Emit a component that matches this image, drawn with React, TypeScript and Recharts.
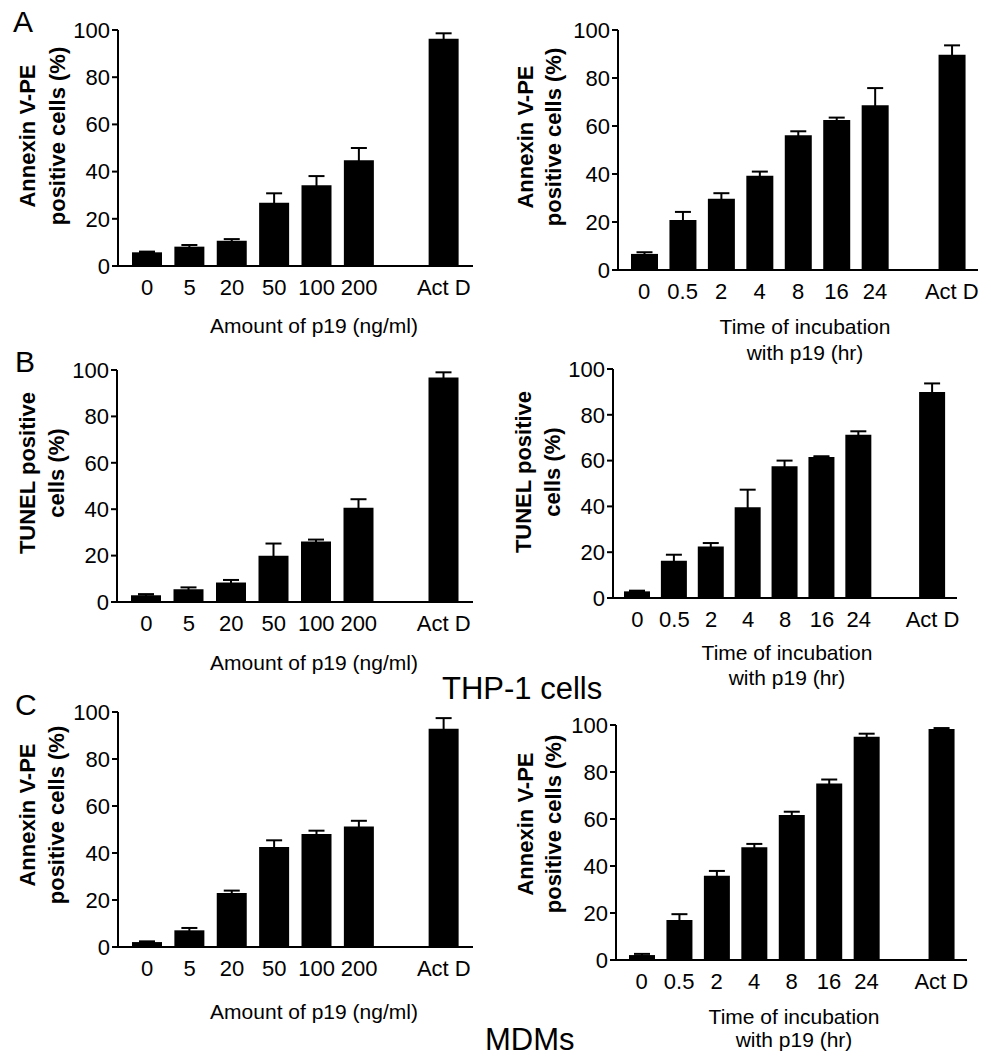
import React from "react";
import { BarChart, Bar, XAxis, YAxis, ErrorBar } from "recharts";

const FONT = '"Liberation Sans", Arial, Helvetica, sans-serif';

// categorias
const doseCats = ["0", "5", "20", "50", "100", "200", "", "Act D"];
const timeCats = ["0", "0.5", "2", "4", "8", "16", "24", "", "Act D"];
const yTicks = [0, 20, 40, 60, 80, 100];

// A: Annexin V-PE, THP-1
const aDoseMean = [5.8, 8.2, 10.7, 26.8, 34.2, 44.8, null, 96.3];
const aDoseErr = [0.3, 0.7, 0.7, 4.0, 3.9, 5.2, null, 2.3];
const aTimeMean = [6.7, 20.8, 29.7, 39.3, 56.1, 62.5, 68.6, null, 89.7];
const aTimeErr = [0.7, 3.4, 2.3, 1.7, 1.7, 1.0, 7.2, null, 3.9];

// B: TUNEL, THP-1
const bDoseMean = [2.9, 5.5, 8.4, 19.9, 26.1, 40.6, null, 96.8];
const bDoseErr = [0.5, 0.8, 1.1, 5.3, 0.8, 3.7, null, 2.2];
const bTimeMean = [2.9, 16.3, 22.5, 39.6, 57.5, 61.6, 71.3, null, 90.0];
const bTimeErr = [0.3, 2.6, 1.5, 7.7, 2.5, 0.3, 1.5, null, 3.7];

// C: Annexin V-PE, MDMs
const cDoseMean = [2.1, 7.1, 23.0, 42.6, 48.1, 51.3, null, 92.9];
const cDoseErr = [0.3, 1.0, 1.0, 2.8, 1.4, 2.4, null, 4.5];
const cTimeMean = [2.1, 17.0, 35.9, 48.0, 61.7, 75.1, 95.0, null, 98.3];
const cTimeErr = [0.5, 2.5, 2.0, 1.4, 1.4, 1.7, 1.3, null, 0.4];

const annexinTitle = ["Annexin V-PE", "positive cells (%)"];
const tunelTitle = ["TUNEL positive", "cells (%)"];
const doseTitle = ["Amount of p19 (ng/ml)"];
const timeTitle = ["Time of incubation", "with p19 (hr)"];

const build = (cats: string[], mean: (number | null)[], err: (number | null)[]) =>
  cats.map((c, i) => ({ name: c, value: mean[i], err: err[i] }));

const panels = [
  { id: "aDose", left: 0, top: 0, width: 485, height: 370, x0: 118, x1: 473, yTop: 30, yBot: 266, pad: 8, barSize: 30,
    data: build(doseCats, aDoseMean, aDoseErr), yTitle: annexinTitle, yTitleX: [27, 57], yTitleY: 136, xTitle: doseTitle, xTitleX: 314, xTitleY: [326] },
  { id: "aTime", left: 485, top: 0, width: 506, height: 370, x0: 618, x1: 978, yTop: 30, yBot: 270, pad: 7, barSize: 27,
    data: build(timeCats, aTimeMean, aTimeErr), yTitle: annexinTitle, yTitleX: [525, 553], yTitleY: 137, xTitle: timeTitle, xTitleX: 805, xTitleY: [327, 353] },
  { id: "bDose", left: 0, top: 340, width: 485, height: 355, x0: 117, x1: 473, yTop: 370, yBot: 602, pad: 8, barSize: 30,
    data: build(doseCats, bDoseMean, bDoseErr), yTitle: tunelTitle, yTitleX: [27, 56], yTitleY: 473, xTitle: doseTitle, xTitleX: 314, xTitleY: [663] },
  { id: "bTime", left: 485, top: 340, width: 506, height: 355, x0: 613, x1: 957, yTop: 369, yBot: 598, pad: 6, barSize: 26,
    data: build(timeCats, bTimeMean, bTimeErr), yTitle: tunelTitle, yTitleX: [523, 552], yTitleY: 472, xTitle: timeTitle, xTitleX: 787, xTitleY: [653, 678] },
  { id: "cDose", left: 0, top: 680, width: 485, height: 377, x0: 118, x1: 473, yTop: 712, yBot: 947, pad: 8, barSize: 30,
    data: build(doseCats, cDoseMean, cDoseErr), yTitle: annexinTitle, yTitleX: [27, 56], yTitleY: 815, xTitle: doseTitle, xTitleX: 314, xTitleY: [1012] },
  { id: "cTime", left: 485, top: 680, width: 506, height: 377, x0: 616, x1: 967, yTop: 725, yBot: 960, pad: 7, barSize: 26,
    data: build(timeCats, cTimeMean, cTimeErr), yTitle: annexinTitle, yTitleX: [525, 553], yTitleY: 824, xTitle: timeTitle, xTitleX: 794, xTitleY: [1017, 1040] },
];

const axisStroke = { stroke: "#000", strokeWidth: 2 };

function Panel({ p }: { p: any }) {
  const xAxisHeight = 30;
  const margin = {
    top: p.yTop - p.top,
    right: p.left + p.width - p.x1,
    bottom: p.top + p.height - p.yBot - xAxisHeight,
    left: 0,
  };

  // titulos de ejes (coordenadas locales del svg)
  const yTitle = () => (
    <g>
      {p.yTitle.map((t: string, i: number) => {
        const cx = p.yTitleX[i] - p.left;
        const cy = p.yTitleY - p.top;
        return (
          <text key={i} x={cx} y={cy} dy="0.35em" transform={`rotate(-90 ${cx} ${cy})`}
            textAnchor="middle" fontSize={22} fontWeight="bold" fill="#000">{t}</text>
        );
      })}
    </g>
  );
  const xTitle = () => (
    <g>
      {p.xTitle.map((t: string, i: number) => (
        <text key={i} x={p.xTitleX - p.left} y={p.xTitleY[i] - p.top} dy="0.35em"
          textAnchor="middle" fontSize={21} fill="#000">{t}</text>
      ))}
    </g>
  );

  return (
    <div style={{ position: "absolute", left: p.left, top: p.top }}>
      <BarChart width={p.width} height={p.height} data={p.data} margin={margin}>
        <XAxis dataKey="name" interval={0} height={xAxisHeight} padding={{ left: p.pad, right: p.pad }}
          axisLine={axisStroke} tickLine={false} tickSize={0} tickMargin={13}
          tick={{ fill: "#000", fontSize: 22 }} label={{ content: xTitle }} />
        <YAxis width={p.x0 - p.left} domain={[0, 100]} ticks={yTicks} allowDataOverflow
          axisLine={axisStroke} tickLine={axisStroke} tickSize={6} tickMargin={2}
          tick={{ fill: "#000", fontSize: 22 }} label={{ content: yTitle }} />
        <Bar dataKey="value" fill="#000" barSize={p.barSize} isAnimationActive={false}>
          <ErrorBar dataKey="err" direction="y" width={8} stroke="#000" strokeWidth={2} isAnimationActive={false} />
        </Bar>
      </BarChart>
    </div>
  );
}

export default function App() {
  return (
    <div style={{ position: "absolute", left: 0, top: 0, width: 991, height: 1057, background: "#fff", fontFamily: FONT, overflow: "hidden" }}>
      <svg width={991} height={1057} style={{ position: "absolute", left: 0, top: 0 }}>
        <g fontFamily={FONT} fill="#000">
          <text x={13} y={32} fontSize={30}>A</text>
          <text x={15} y={372} fontSize={30}>B</text>
          <text x={15} y={715} fontSize={30}>C</text>
          <text x={442} y={699} fontSize={31}>THP-1 cells</text>
          <text x={485} y={1050} fontSize={31}>MDMs</text>
        </g>
      </svg>
      {panels.map((p) => <Panel key={p.id} p={p} />)}
    </div>
  );
}
